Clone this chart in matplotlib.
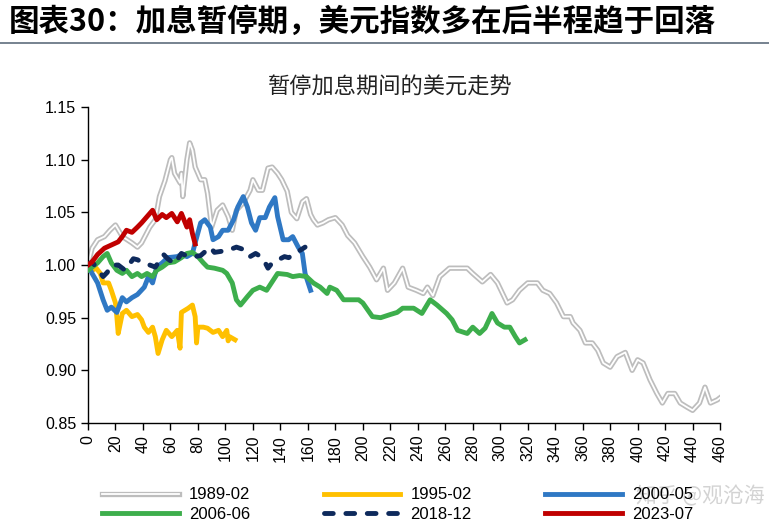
import matplotlib
matplotlib.use('Agg')
import matplotlib.pyplot as plt
import matplotlib.patheffects as pe
from matplotlib.lines import Line2D

# days since the pause started / dollar index relative to start
d1989 = [0, 3, 7, 12, 16, 20, 25, 32, 36, 39, 45, 49, 52, 56, 60, 61, 63, 67, 68, 69, 72, 74, 76, 78,
         82, 85, 87, 90, 94, 98, 102, 105, 108, 113, 118, 120, 124, 127, 131, 134, 138, 141, 145, 148,
         152, 156, 159, 162, 164, 167, 171, 175, 180, 185, 189, 194, 200, 205, 210, 215, 218, 223, 229,
         233, 239, 244, 247, 251, 256, 263, 271, 276, 280, 287, 293, 298, 305, 309, 314, 320, 327, 331,
         336, 341, 346, 351, 353, 358, 362, 367, 371, 375, 380, 385, 391, 396, 400, 404, 409, 414, 418,
         422, 427, 431, 436, 440, 445, 449, 453, 458, 461]
v1989 = [1.000, 1.016, 1.024, 1.027, 1.033, 1.038, 1.027, 1.021, 1.017, 1.021, 1.036, 1.043, 1.065,
         1.080, 1.100, 1.102, 1.087, 1.078, 1.087, 1.065, 1.100, 1.116, 1.109, 1.093, 1.081, 1.081,
         1.068, 1.036, 1.052, 1.057, 1.046, 1.033, 1.052, 1.059, 1.071, 1.081, 1.071, 1.071, 1.092,
         1.093, 1.087, 1.081, 1.070, 1.050, 1.044, 1.060, 1.063, 1.048, 1.043, 1.038, 1.040, 1.043,
         1.045, 1.038, 1.028, 1.021, 1.008, 0.998, 0.986, 0.997, 0.976, 0.983, 0.997, 0.979, 0.976,
         0.973, 0.979, 0.971, 0.989, 0.997, 0.997, 0.997, 0.992, 0.984, 0.991, 0.983, 0.964, 0.967,
         0.976, 0.983, 0.983, 0.976, 0.973, 0.964, 0.951, 0.951, 0.945, 0.938, 0.926, 0.926, 0.919,
         0.907, 0.903, 0.913, 0.917, 0.900, 0.910, 0.907, 0.891, 0.878, 0.869, 0.878, 0.878, 0.869,
         0.865, 0.862, 0.869, 0.884, 0.869, 0.872, 0.875]

d1995 = [0, 3, 6, 9, 11, 15, 17, 20, 21, 22, 25, 28, 32, 36, 39, 41, 44, 47, 49, 51, 54, 57, 61, 65,
         67, 68, 73, 76, 78, 79, 80, 84, 87, 91, 95, 98, 101, 102, 103, 107]
v1995 = [1.000, 0.995, 0.997, 0.992, 0.983, 0.983, 0.976, 0.964, 0.951, 0.935, 0.954, 0.957, 0.951,
         0.953, 0.948, 0.941, 0.936, 0.941, 0.932, 0.916, 0.929, 0.938, 0.932, 0.938, 0.921, 0.955,
         0.959, 0.962, 0.951, 0.926, 0.941, 0.941, 0.940, 0.936, 0.938, 0.932, 0.938, 0.928, 0.932,
         0.929]

d2000 = [0, 3, 7, 11, 14, 17, 21, 25, 28, 32, 36, 41, 44, 47, 50, 54, 58, 65, 68, 72, 76, 78, 82, 85,
         89, 91, 95, 98, 102, 106, 109, 113, 116, 119, 122, 125, 129, 132, 136, 138, 142, 146, 149,
         153, 156, 158, 162]
v2000 = [1.000, 0.992, 0.983, 0.967, 0.957, 0.960, 0.955, 0.969, 0.965, 0.969, 0.972, 0.979, 0.989,
         0.983, 0.998, 1.002, 1.007, 1.008, 1.010, 1.008, 1.011, 1.021, 1.040, 1.043, 1.036, 1.024,
         1.027, 1.033, 1.033, 1.043, 1.055, 1.065, 1.055, 1.040, 1.033, 1.045, 1.045, 1.055, 1.064,
         1.046, 1.024, 1.024, 1.027, 1.017, 1.011, 0.992, 0.976]

d2006 = [0, 3, 7, 11, 14, 17, 21, 25, 28, 32, 36, 39, 43, 47, 50, 54, 58, 63, 68, 72, 76, 80, 84, 87,
         92, 98, 101, 105, 108, 111, 116, 120, 125, 130, 135, 138, 145, 149, 154, 159, 164, 169, 174,
         176, 181, 186, 191, 197, 200, 207, 213, 220, 225, 229, 237, 243, 249, 254, 261, 265, 269, 276,
         280, 285, 289, 294, 298, 303, 307, 311, 314, 318]
v2006 = [0.995, 0.998, 1.002, 1.008, 1.011, 1.002, 0.995, 0.992, 0.995, 0.989, 0.992, 0.989, 0.992,
         0.989, 0.995, 0.998, 1.002, 1.003, 1.007, 1.011, 1.012, 1.008, 1.002, 0.998, 0.997, 0.995,
         0.992, 0.983, 0.967, 0.962, 0.970, 0.976, 0.979, 0.976, 0.986, 0.992, 0.991, 0.989, 0.990,
         0.989, 0.983, 0.979, 0.973, 0.979, 0.976, 0.967, 0.967, 0.967, 0.964, 0.951, 0.950, 0.953,
         0.955, 0.959, 0.959, 0.954, 0.967, 0.962, 0.954, 0.948, 0.938, 0.935, 0.941, 0.935, 0.940,
         0.954, 0.945, 0.941, 0.941, 0.932, 0.926, 0.929]

d2018 = [0, 3, 7, 11, 14, 17, 22, 27, 33, 36, 40, 45, 49, 55, 58, 63, 68, 73, 78, 82, 89, 92, 102,
         108, 115, 118, 122, 127, 131, 134, 143, 146, 152, 158]
v2018 = [1.000, 1.003, 0.996, 0.989, 0.993, 1.000, 1.000, 0.995, 1.006, 1.005, 1.002, 1.000, 0.998,
         1.010, 1.006, 1.001, 1.011, 1.008, 1.008, 1.009, 1.017, 1.012, 1.014, 1.017, 1.014, 1.008,
         1.011, 1.007, 0.997, 1.002, 1.008, 1.007, 1.012, 1.017]

d2023 = [0, 3, 7, 12, 17, 22, 25, 28, 32, 36, 39, 43, 47, 50, 54, 57, 61, 65, 68, 72, 74, 76, 78]
v2023 = [1.000, 1.003, 1.010, 1.016, 1.019, 1.022, 1.027, 1.033, 1.031, 1.036, 1.040, 1.046, 1.052,
         1.043, 1.048, 1.045, 1.049, 1.041, 1.049, 1.036, 1.043, 1.030, 1.020]

x_ticks = list(range(0, 461, 20))
y_ticks = [0.85, 0.90, 0.95, 1.00, 1.05, 1.10, 1.15]

plt.rcParams['font.family'] = ['Liberation Sans', 'Noto Sans CJK SC', 'DejaVu Sans']

fig = plt.figure(figsize=(7.69, 5.31), dpi=100)
ax = fig.add_axes([0.1144, 0.2034, 0.822, 0.595])

lw = 3.5
# gray series drawn as a hollow (outlined) line
l89, = ax.plot(d1989, v1989, color='white', lw=1.3, label='1989-02', zorder=2,
               path_effects=[pe.Stroke(linewidth=3.8, foreground='#BDBDBD'), pe.Normal()])
l95, = ax.plot(d1995, v1995, color='#FFC000', lw=lw, label='1995-02', zorder=3)
l00, = ax.plot(d2000, v2000, color='#2F78C4', lw=lw, label='2000-05', zorder=3)
l06, = ax.plot(d2006, v2006, color='#3DAE4C', lw=lw, label='2006-06', zorder=3)
l18, = ax.plot(d2018, v2018, color='#0E2A5C', lw=lw, label='2018-12', zorder=4,
               dashes=(1.8, 2.6), dash_capstyle='round')
l23, = ax.plot(d2023, v2023, color='#C00000', lw=lw, label='2023-07', zorder=4)

ax.set_xlim(0, 460)
ax.set_ylim(0.85, 1.15)
ax.set_xticks(x_ticks)
ax.set_xticklabels([str(t) for t in x_ticks], rotation=90)
ax.set_yticks(y_ticks)
ax.set_yticklabels(['%.2f' % t for t in y_ticks])
ax.tick_params(labelsize=11.5, length=5, width=1, direction='out')
for s in ['top', 'right']:
    ax.spines[s].set_visible(False)
for s in ['left', 'bottom']:
    ax.spines[s].set_linewidth(1)

# header
fig.text(0.012, 0.958, '图表30：加息暂停期，美元指数多在后半程趋于回落', fontsize=22,
         fontweight='bold', family=['Noto Sans CJK SC', 'DejaVu Sans'], va='center', ha='left')
fig.add_artist(Line2D([0, 1], [0.919, 0.919], color='#6B7887', lw=1.3))
fig.text(0.507, 0.836, '暂停加息期间的美元走势', fontsize=16, ha='center', va='center',
         color='#222222', family=['Noto Sans CJK SC', 'DejaVu Sans'])

# legend (column-major order so rows read like the original)
handles = [l89, l06, l95, l18, l00, l23]
fig.legend(handles=handles, loc='center', bbox_to_anchor=(0.517, 0.05), ncol=3, frameon=False,
           handlelength=4.6, columnspacing=4.4, fontsize=12, labelspacing=0.25, handletextpad=0.6)

fig.text(0.995, 0.066, '知乎 @观沧海', fontsize=15, ha='right', va='center', color='#C8C8C8',
         alpha=0.8, family=['Noto Sans CJK SC', 'DejaVu Sans'])

fig.savefig('out.png', dpi=100)
